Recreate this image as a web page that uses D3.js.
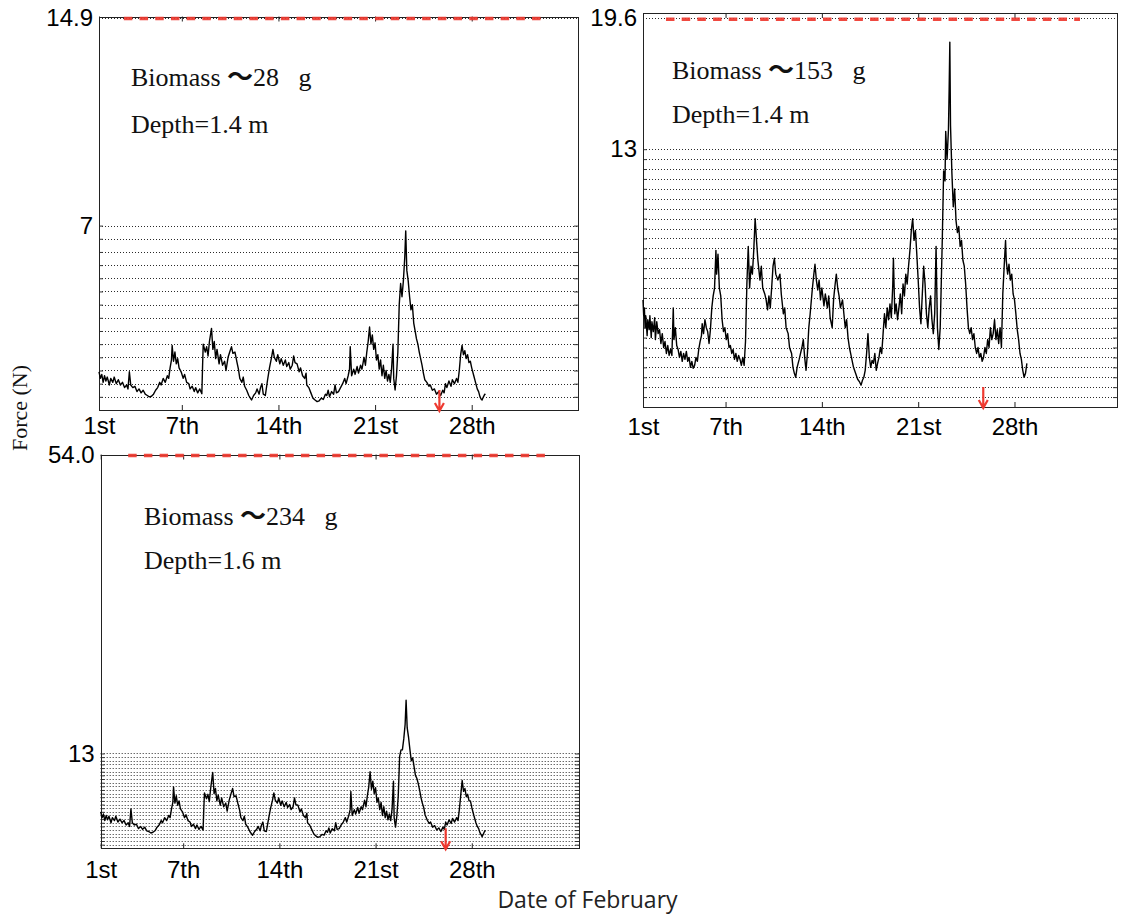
<!DOCTYPE html>
<html>
<head>
<meta charset="utf-8">
<script src="https://cdn.jsdelivr.net/npm/d3@7"></script>
<style>
  html, body { margin: 0; padding: 0; background: #fff; }
  svg { display: block; }
</style>
</head>
<body>
<svg id="chart" width="1121" height="923"></svg>
<script>
// ---- data ---------------------------------------------------------------
const dayTicks = [1, 7, 14, 21, 28];
const dayTickLabels = ["1st", "7th", "14th", "21st", "28th"];

const panelNames = ["biomass28", "biomass153", "biomass234"];
const biomassValues = ["28", "153", "234"];
const depthLabels = ["Depth=1.4 m", "Depth=1.4 m", "Depth=1.6 m"];

const forceMax = [14.9, 19.6, 54];
const forceTickValues = [[14.9, 7], [19.6, 13], [54, 13]];
const forceTickLabels = [["14.9", "7"], ["19.6", "13"], ["54.0", "13"]];
const gridTop = [7, 13, 13];          // dotted reference lines every 0.5 N up to here
const gridStep = 0.5;
const dayMax = [35.7, 35.45, 35.8];
const limitSpan = [[2.8, 33.0], [2.67, 32.76], [3.0, 33.35]];   // red dashed limit line (days)
const eventDay = [25.66, 25.73, 26.1];                         // red arrow marker

// mooring force, [day of February, N]
const force28 = [
  [1.0,1.45],[1.1,1.2],[1.2,1.35],[1.3,1.05],[1.4,1.3],[1.5,1.1],[1.6,1.25],[1.75,0.95],[1.85,1.2],[2.0,1.05],
  [2.1,1.25],[2.25,1.0],[2.4,1.15],[2.55,0.95],[2.7,1.05],[2.85,0.85],[3.0,0.95],[3.1,0.8],[3.2,1.45],[3.3,0.95],
  [3.45,0.85],[3.6,0.9],[3.75,0.7],[3.9,0.8],[4.05,0.65],[4.2,0.75],[4.35,0.6],[4.5,0.55],[4.65,0.5],[4.8,0.52],
  [4.95,0.6],[5.1,0.75],[5.25,0.85],[5.4,1.05],[5.5,0.95],[5.65,1.2],[5.8,1.05],[5.95,1.3],[6.05,1.2],[6.15,1.6],
  [6.25,1.9],[6.3,2.45],[6.4,1.85],[6.5,2.2],[6.6,1.75],[6.7,1.95],[6.8,1.6],[6.95,1.45],[7.1,1.2],[7.2,1.35],
  [7.35,1.05],[7.5,1.0],[7.6,0.8],[7.75,0.9],[7.9,0.7],[8.0,0.85],[8.15,0.65],[8.3,0.8],[8.45,0.62],[8.5,1.6],
  [8.55,2.5],[8.7,2.2],[8.8,2.4],[8.9,2.05],[9.0,2.6],[9.15,3.1],[9.25,2.3],[9.35,2.6],[9.45,1.95],[9.55,2.3],
  [9.7,1.75],[9.8,2.1],[9.95,1.7],[10.1,1.85],[10.2,1.5],[10.35,2.0],[10.5,2.25],[10.6,2.4],[10.7,2.15],[10.85,2.2],
  [11.0,1.8],[11.1,1.55],[11.2,1.2],[11.35,1.05],[11.45,1.25],[11.55,0.9],[11.7,0.75],[11.85,0.55],[12.0,0.42],[12.05,0.38],
  [12.2,0.55],[12.35,0.65],[12.45,0.8],[12.6,0.6],[12.7,0.85],[12.8,1.0],[12.9,0.6],[13.05,0.55],[13.2,1.1],[13.35,1.6],
  [13.5,2.0],[13.6,2.3],[13.7,2.0],[13.85,1.85],[13.95,2.1],[14.1,1.75],[14.2,1.95],[14.35,1.7],[14.5,1.9],[14.6,1.65],
  [14.75,1.8],[14.85,1.55],[15.0,1.7],[15.1,2.05],[15.2,1.8],[15.35,1.75],[15.5,1.45],[15.6,1.6],[15.75,1.3],[15.9,1.2],
  [16.0,1.4],[16.05,0.95],[16.2,0.85],[16.35,0.65],[16.5,0.45],[16.65,0.38],[16.8,0.32],[16.95,0.35],[17.1,0.45],[17.25,0.4],
  [17.4,0.6],[17.5,0.55],[17.6,0.75],[17.7,0.5],[17.85,0.7],[18.0,0.6],[18.1,0.95],[18.2,0.65],[18.35,0.7],[18.5,0.85],
  [18.65,1.0],[18.8,1.2],[18.9,1.0],[19.05,1.3],[19.15,1.55],[19.2,2.4],[19.3,1.3],[19.45,1.55],[19.55,1.35],[19.7,1.65],
  [19.8,1.4],[19.95,1.7],[20.05,1.55],[20.2,2.0],[20.3,1.7],[20.4,2.2],[20.5,2.6],[20.6,3.15],[20.7,2.5],[20.8,2.85],
  [20.9,2.3],[21.0,2.55],[21.1,1.9],[21.2,2.1],[21.3,1.55],[21.4,1.9],[21.5,1.3],[21.6,1.7],[21.7,1.2],[21.8,1.5],
  [21.9,1.1],[22.0,1.35],[22.1,1.05],[22.2,1.6],[22.3,2.5],[22.35,1.2],[22.45,0.76],[22.55,1.3],[22.65,2.2],[22.75,4.0],
  [22.85,4.8],[22.95,4.3],[23.05,4.9],[23.15,5.8],[23.22,6.8],[23.3,5.3],[23.4,4.9],[23.5,4.3],[23.6,3.8],[23.7,4.0],
  [23.8,3.3],[23.9,3.0],[24.0,2.7],[24.1,2.5],[24.2,2.2],[24.3,1.95],[24.4,1.7],[24.5,1.4],[24.6,1.15],[24.75,1.05],
  [24.9,0.9],[25.0,0.95],[25.15,0.75],[25.3,0.8],[25.45,0.6],[25.6,0.7],[25.75,0.55],[25.9,0.75],[26.0,0.65],[26.1,1.0],
  [26.2,0.85],[26.35,1.1],[26.5,0.9],[26.6,1.15],[26.75,1.0],[26.9,1.2],[27.0,1.05],[27.1,1.5],[27.2,2.1],[27.3,2.45],
  [27.4,2.1],[27.5,2.25],[27.6,1.95],[27.7,2.1],[27.8,1.8],[27.9,1.85],[28.0,1.6],[28.15,1.3],[28.3,1.0],[28.4,0.8],
  [28.5,0.7],[28.6,0.5],[28.7,0.4],[28.75,0.38],[28.85,0.5],[28.95,0.6],[29.0,0.58]
];

const force153 = [
  [1.0,5.4],[1.05,4.6],[1.1,5.0],[1.15,4.0],[1.2,4.6],[1.3,3.6],[1.35,4.4],[1.45,3.9],[1.5,4.6],[1.6,3.5],
  [1.65,4.3],[1.75,3.8],[1.85,4.5],[1.9,3.4],[2.0,4.3],[2.1,3.7],[2.2,3.9],[2.3,3.2],[2.4,3.7],[2.5,3.0],
  [2.6,3.3],[2.7,2.7],[2.8,3.1],[2.9,2.6],[3.0,2.9],[3.1,2.6],[3.2,5.0],[3.25,3.4],[3.35,4.0],[3.45,3.1],
  [3.55,2.9],[3.65,2.5],[3.75,2.8],[3.85,2.3],[3.95,2.7],[4.05,2.4],[4.15,2.8],[4.25,2.3],[4.35,2.5],[4.45,2.0],
  [4.55,2.3],[4.65,1.95],[4.75,2.1],[4.85,2.5],[4.95,2.3],[5.05,2.9],[5.15,3.3],[5.25,3.6],[5.3,4.2],[5.4,3.7],
  [5.5,4.4],[5.6,4.0],[5.7,3.8],[5.8,3.2],[5.9,3.9],[6.0,5.0],[6.1,5.6],[6.2,6.0],[6.3,7.9],[6.35,6.7],
  [6.45,7.7],[6.55,6.0],[6.65,5.6],[6.75,4.4],[6.85,3.8],[6.95,4.0],[7.05,3.4],[7.15,3.7],[7.25,3.0],[7.35,3.1],
  [7.45,2.7],[7.55,2.9],[7.65,2.4],[7.75,2.7],[7.85,2.3],[7.95,2.6],[8.05,2.4],[8.15,2.1],[8.25,2.5],[8.35,2.1],
  [8.45,3.3],[8.55,6.2],[8.65,8.1],[8.75,6.0],[8.85,7.1],[8.95,6.7],[9.05,7.9],[9.15,9.5],[9.25,8.4],[9.35,7.4],
  [9.5,6.4],[9.6,7.1],[9.7,6.0],[9.85,5.7],[9.95,5.4],[10.05,4.9],[10.15,5.6],[10.25,5.0],[10.35,6.0],[10.45,7.1],
  [10.55,7.5],[10.65,6.7],[10.8,6.4],[10.95,6.7],[11.05,5.7],[11.2,4.7],[11.3,5.0],[11.4,4.0],[11.55,3.7],[11.65,3.0],
  [11.8,2.7],[11.9,2.0],[12.0,1.7],[12.1,1.5],[12.2,2.0],[12.35,2.4],[12.45,2.7],[12.55,3.0],[12.65,3.4],[12.75,2.5],
  [12.85,1.85],[12.95,2.7],[13.05,4.0],[13.15,4.7],[13.3,5.9],[13.4,6.6],[13.5,7.2],[13.6,6.4],[13.7,5.9],[13.8,6.4],
  [13.9,5.4],[14.0,6.0],[14.15,5.1],[14.25,5.7],[14.4,5.0],[14.5,5.6],[14.6,4.5],[14.75,4.0],[14.85,5.4],[14.95,6.1],
  [15.05,6.7],[15.15,6.0],[15.25,5.6],[15.35,5.0],[15.5,5.4],[15.6,4.7],[15.7,4.0],[15.8,4.4],[15.9,3.5],[16.0,3.0],
  [16.15,2.5],[16.3,2.0],[16.45,1.7],[16.6,1.4],[16.75,1.25],[16.85,1.1],[16.95,1.35],[17.05,1.5],[17.15,1.85],[17.25,2.7],
  [17.35,3.7],[17.45,2.5],[17.55,2.0],[17.65,2.35],[17.75,2.2],[17.85,2.7],[17.95,1.85],[18.05,2.2],[18.15,2.5],[18.25,3.0],
  [18.35,2.7],[18.45,3.7],[18.55,4.7],[18.65,4.0],[18.75,5.0],[18.85,4.4],[18.95,5.2],[19.05,4.5],[19.15,6.1],[19.2,7.5],
  [19.3,4.7],[19.4,5.2],[19.5,4.4],[19.6,5.0],[19.7,5.7],[19.8,4.7],[19.9,6.2],[20.0,5.6],[20.1,6.7],[20.2,6.2],
  [20.3,7.1],[20.4,7.9],[20.5,8.9],[20.6,9.5],[20.7,8.4],[20.8,8.9],[20.9,7.7],[21.0,6.4],[21.1,5.0],[21.2,4.2],
  [21.3,5.7],[21.4,7.1],[21.5,6.2],[21.6,4.7],[21.7,4.0],[21.8,5.0],[21.9,5.6],[22.0,4.4],[22.1,3.7],[22.2,4.7],
  [22.3,8.1],[22.4,4.0],[22.5,2.9],[22.6,4.0],[22.65,5.4],[22.75,8.4],[22.85,11.9],[22.95,11.4],[23.0,13.9],[23.1,12.5],
  [23.2,14.0],[23.25,16.0],[23.3,18.4],[23.35,14.2],[23.45,11.8],[23.55,10.1],[23.65,11.0],[23.75,9.4],[23.85,8.8],[23.95,9.1],
  [24.05,8.1],[24.15,8.4],[24.25,7.4],[24.35,7.1],[24.45,6.2],[24.55,5.0],[24.65,4.0],[24.75,3.7],[24.85,4.0],[24.95,3.4],
  [25.05,3.7],[25.15,3.0],[25.25,2.7],[25.35,3.0],[25.45,2.5],[25.55,2.7],[25.65,2.3],[25.75,2.5],[25.85,3.0],[25.95,2.7],
  [26.05,3.4],[26.15,3.0],[26.25,4.0],[26.35,3.4],[26.45,3.7],[26.55,4.4],[26.65,3.4],[26.75,3.9],[26.85,3.2],[26.95,4.0],
  [27.05,3.0],[27.15,5.7],[27.25,7.1],[27.35,8.4],[27.4,7.4],[27.5,6.7],[27.6,7.2],[27.7,6.4],[27.8,6.7],[27.9,5.7],
  [28.0,5.4],[28.1,4.7],[28.2,3.9],[28.3,3.4],[28.4,2.7],[28.5,2.4],[28.6,1.85],[28.7,1.5],[28.8,1.7],[28.9,2.2]
];

const force234 = [
  [1.0,5.0],[1.1,4.2],[1.2,4.7],[1.3,3.8],[1.4,4.5],[1.5,3.9],[1.6,4.4],[1.75,3.5],[1.85,4.2],[2.0,3.8],
  [2.1,4.4],[2.25,3.6],[2.4,4.0],[2.55,3.5],[2.7,3.8],[2.85,3.2],[3.0,3.5],[3.1,3.0],[3.2,5.4],[3.3,3.5],
  [3.45,3.2],[3.6,3.3],[3.75,2.7],[3.9,3.0],[4.05,2.6],[4.2,2.9],[4.35,2.4],[4.5,2.3],[4.65,2.1],[4.8,2.2],
  [4.95,2.4],[5.1,2.9],[5.25,3.2],[5.4,3.8],[5.5,3.5],[5.65,4.2],[5.8,3.8],[5.95,4.5],[6.05,4.2],[6.15,5.4],
  [6.25,6.3],[6.3,8.4],[6.4,6.2],[6.5,7.2],[6.6,5.9],[6.7,6.5],[6.8,5.4],[6.95,5.0],[7.1,4.2],[7.2,4.6],
  [7.35,3.8],[7.5,3.6],[7.6,3.0],[7.75,3.3],[7.9,2.7],[8.0,3.2],[8.15,2.6],[8.3,3.0],[8.45,2.5],[8.5,5.4],
  [8.55,7.6],[8.7,6.8],[8.8,7.4],[8.9,6.4],[9.0,8.2],[9.15,10.4],[9.25,7.5],[9.35,8.2],[9.45,6.5],[9.55,7.3],
  [9.7,5.9],[9.8,6.9],[9.95,5.7],[10.1,6.2],[10.2,5.1],[10.35,6.6],[10.5,7.6],[10.6,8.2],[10.7,7.1],[10.85,7.2],
  [11.0,6.0],[11.1,5.3],[11.2,4.2],[11.35,3.8],[11.45,4.4],[11.55,3.3],[11.7,2.9],[11.85,2.3],[12.0,1.9],[12.05,1.8],
  [12.2,2.3],[12.35,2.6],[12.45,3.0],[12.6,2.4],[12.7,3.2],[12.8,3.6],[12.9,2.4],[13.05,2.3],[13.2,3.9],[13.35,5.4],
  [13.5,6.6],[13.6,7.6],[13.7,6.6],[13.85,6.2],[13.95,6.9],[14.1,5.9],[14.2,6.5],[14.35,5.7],[14.5,6.3],[14.6,5.6],
  [14.75,6.0],[14.85,5.3],[15.0,5.7],[15.1,6.9],[15.2,6.0],[15.35,5.9],[15.5,5.0],[15.6,5.4],[15.75,4.5],[15.9,4.2],
  [16.0,4.8],[16.05,3.5],[16.2,3.2],[16.35,2.6],[16.5,2.0],[16.65,1.7],[16.8,1.5],[16.95,1.6],[17.1,1.9],[17.25,1.8],
  [17.4,2.4],[17.5,2.2],[17.6,2.8],[17.7,2.1],[17.85,2.7],[18.0,2.4],[18.1,3.5],[18.2,2.6],[18.35,2.7],[18.5,3.2],
  [18.65,3.6],[18.8,4.2],[18.9,3.6],[19.05,4.5],[19.15,5.3],[19.2,7.8],[19.3,4.5],[19.45,5.3],[19.55,4.7],[19.7,5.6],
  [19.8,4.8],[19.95,5.7],[20.05,5.3],[20.2,6.6],[20.3,5.7],[20.4,7.2],[20.5,8.4],[20.6,10.5],[20.7,8.1],[20.8,9.2],
  [20.9,7.5],[21.0,8.3],[21.1,6.3],[21.2,6.9],[21.3,5.3],[21.4,6.3],[21.5,4.5],[21.6,5.7],[21.7,4.2],[21.8,5.1],
  [21.9,3.9],[22.0,4.7],[22.1,3.8],[22.2,5.4],[22.3,9.2],[22.35,4.2],[22.45,2.9],[22.55,4.5],[22.65,7.2],[22.75,12.6],
  [22.85,13.5],[22.95,13.5],[23.05,15.0],[23.15,17.0],[23.22,20.3],[23.3,16.5],[23.4,15.2],[23.5,13.5],[23.6,12.0],[23.7,12.4],
  [23.8,11.2],[23.9,10.0],[24.0,9.6],[24.1,8.9],[24.2,8.0],[24.3,7.0],[24.4,6.2],[24.5,5.6],[24.6,4.6],[24.75,3.9],
  [24.9,3.4],[25.0,3.6],[25.15,2.9],[25.3,3.1],[25.45,2.5],[25.6,2.8],[25.75,2.3],[25.9,2.9],[26.0,2.6],[26.1,3.6],
  [26.2,3.2],[26.35,3.9],[26.5,3.4],[26.6,4.1],[26.75,3.6],[26.9,4.2],[27.0,3.8],[27.1,5.4],[27.2,7.4],[27.3,9.3],
  [27.4,7.8],[27.5,8.2],[27.6,7.1],[27.7,7.4],[27.8,6.5],[27.9,6.5],[28.0,5.6],[28.15,4.5],[28.3,3.5],[28.4,3.0],
  [28.5,2.7],[28.6,2.1],[28.7,1.8],[28.75,1.6],[28.85,2.0],[28.95,2.4],[29.0,2.3]
];

const panelSeries = [force28, force153, force234];

// ---- layout -------------------------------------------------------------
const layout = [
  { left: 99,    right: 578,  top: 17.5,  bottom: 410,   frameTop: 16.5,  labelPad: 7,    textX: 131, textY: [86, 133] },
  { left: 643,   right: 1117, top: 18.3,  bottom: 407,   frameTop: 13,    labelPad: 11,   textX: 672, textY: [79, 123] },
  { left: 100.7, right: 579,  top: 454.5, bottom: 848.3, frameTop: 454.5, labelPad: 12.5, textX: 144, textY: [525, 569] }
];

const serif = "'Liberation Serif', 'Times New Roman', Times, serif";
const sans = "'Liberation Sans', Arial, Helvetica, sans-serif";
const red = "#ee3a30";

const svg = d3.select("#chart");

panelSeries.forEach((series, i) => {
  const L = layout[i];
  const g = svg.append("g").attr("class", "panel " + panelNames[i]);

  const x = d3.scaleLinear().domain([1, dayMax[i]]).range([L.left, L.right]);
  const y = d3.scaleLinear().domain([0, forceMax[i]]).range([L.bottom, L.top]);
  const gridValues = d3.range(gridStep, gridTop[i] + 1e-6, gridStep);

  // dotted horizontal reference lines
  g.append("g").attr("class", "grid")
    .selectAll("line")
    .data(gridValues.concat([forceMax[i]]))
    .join("line")
      .attr("x1", L.left)
      .attr("x2", L.right)
      .attr("y1", d => Math.round(y(d)) + 0.5)
      .attr("y2", d => Math.round(y(d)) + 0.5)
      .attr("stroke", "#2a2a2a")
      .attr("stroke-width", 1)
      .attr("stroke-dasharray", "1,2");

  // small inward ticks at each reference line, both sides
  g.append("g").attr("transform", `translate(${L.left},0)`)
    .call(d3.axisLeft(y).tickValues(gridValues).tickSizeInner(-4).tickSizeOuter(0).tickFormat(""))
    .call(a => a.select(".domain").remove())
    .call(a => a.selectAll("line").attr("stroke", "#333"));
  g.append("g").attr("transform", `translate(${L.right},0)`)
    .call(d3.axisRight(y).tickValues(gridValues).tickSizeInner(-4).tickSizeOuter(0).tickFormat(""))
    .call(a => a.select(".domain").remove())
    .call(a => a.selectAll("line").attr("stroke", "#333"));

  // force tick labels
  g.append("g").attr("transform", `translate(${L.left},0)`)
    .call(d3.axisLeft(y).tickValues(forceTickValues[i]).tickSize(0).tickPadding(6)
      .tickFormat((d, k) => forceTickLabels[i][k]))
    .call(a => a.select(".domain").remove())
    .call(a => a.selectAll("text")
      .attr("font-family", sans).attr("font-size", 24).attr("fill", "#000"));

  // day axis, bottom
  g.append("g").attr("transform", `translate(0,${L.bottom})`)
    .call(d3.axisBottom(x).tickValues(dayTicks).tickSizeInner(-5).tickSizeOuter(0)
      .tickPadding(L.labelPad).tickFormat((d, k) => dayTickLabels[k]))
    .call(a => a.select(".domain").remove())
    .call(a => a.selectAll("line").attr("stroke", "#222"))
    .call(a => a.selectAll("text")
      .attr("font-family", sans).attr("font-size", 24).attr("fill", "#000"));

  // day ticks along the top edge
  g.append("g").attr("transform", `translate(0,${L.frameTop})`)
    .call(d3.axisTop(x).tickValues(dayTicks).tickSizeInner(-5).tickSizeOuter(0).tickFormat(""))
    .call(a => a.select(".domain").remove())
    .call(a => a.selectAll("line").attr("stroke", "#222"));

  // frame
  g.append("rect")
    .attr("x", Math.round(L.left) + 0.5)
    .attr("y", Math.round(L.frameTop) + 0.5)
    .attr("width", Math.round(L.right) - Math.round(L.left))
    .attr("height", Math.round(L.bottom) - Math.round(L.frameTop))
    .attr("fill", "none")
    .attr("stroke", "#222")
    .attr("stroke-width", 1);

  // red dashed limit line along the top
  g.append("line")
    .attr("x1", x(limitSpan[i][0]))
    .attr("x2", x(limitSpan[i][1]))
    .attr("y1", y(forceMax[i]) + 1)
    .attr("y2", y(forceMax[i]) + 1)
    .attr("stroke", red)
    .attr("stroke-width", 3.5)
    .attr("stroke-dasharray", "8.5,7.2")
    .attr("opacity", 0.92);

  // force record
  g.append("path")
    .datum(series)
    .attr("fill", "none")
    .attr("stroke", "#000")
    .attr("stroke-width", 1.4)
    .attr("stroke-linejoin", "round")
    .attr("d", d3.line().x(d => x(d[0])).y(d => y(d[1])));

  // red arrow marking the event day
  const ax = x(eventDay[i]);
  const tip = L.bottom + 1;
  g.append("path")
    .attr("d", `M${ax},${tip - 21}L${ax},${tip}M${ax - 4.5},${tip - 8}L${ax},${tip}L${ax + 4.5},${tip - 8}`)
    .attr("fill", "none")
    .attr("stroke", red)
    .attr("stroke-width", 2.2);

  // annotations
  const t1 = g.append("text")
    .attr("x", L.textX).attr("y", L.textY[0])
    .attr("font-family", serif).attr("font-size", 26).attr("fill", "#111")
    .style("white-space", "pre");
  t1.append("tspan").text("Biomass ");
  t1.append("tspan")
    .attr("font-family", "'Noto Sans CJK JP', 'Noto Sans CJK SC', sans-serif")
    .attr("font-weight", 700)
    .text("～");
  t1.append("tspan").text(biomassValues[i] + "   g");

  g.append("text")
    .attr("x", L.textX).attr("y", L.textY[1])
    .attr("font-family", serif).attr("font-size", 26).attr("fill", "#111")
    .text(depthLabels[i]);
});

// shared axis titles
svg.append("text")
  .attr("transform", "translate(27,408) rotate(-90)")
  .attr("text-anchor", "middle")
  .attr("font-family", serif)
  .attr("font-size", 22)
  .attr("fill", "#111")
  .text("Force (N)");

svg.append("text")
  .attr("x", 587.5)
  .attr("y", 908)
  .attr("text-anchor", "middle")
  .attr("font-family", "'Open Sans', 'Noto Sans', sans-serif")
  .attr("font-size", 23)
  .attr("fill", "#222")
  .text("Date of February");
</script>
</body>
</html>
